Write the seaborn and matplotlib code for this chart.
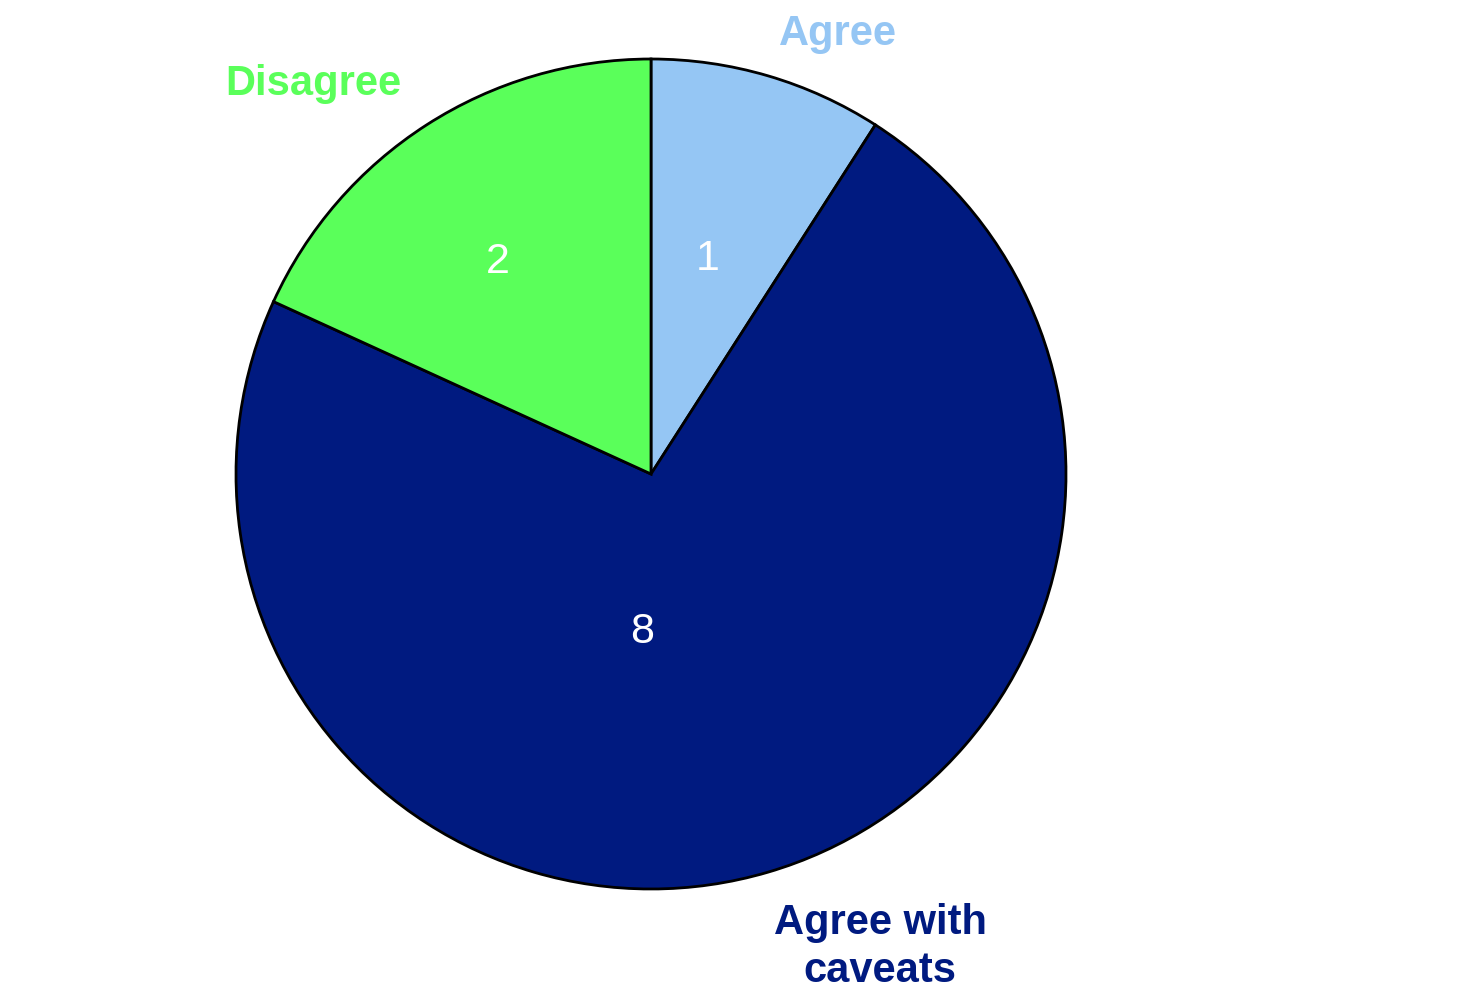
import matplotlib
matplotlib.use("Agg")
import matplotlib.pyplot as plt
import seaborn as sns

sns.set_style("white")
plt.rcParams['font.family'] = ['Liberation Sans', 'DejaVu Sans']

# data
categories = ['Agree', 'Agree with\ncaveats', 'Disagree']
counts = [1, 8, 2]
colors = ['#95C6F4', '#001A80', '#5AFF5A']

fig = plt.figure(figsize=(14.7, 9.99), dpi=100)
ax = fig.add_axes([0, 0, 1, 1])

wedges, texts, autotexts = ax.pie(
    counts, colors=colors, startangle=90, counterclock=False,
    autopct=lambda p: '%d' % round(p * sum(counts) / 100),
    wedgeprops=dict(edgecolor='black', linewidth=2),
    textprops=dict(color='white', fontsize=31))

# value labels inside slices
value_pos = [(0.137, 0.518), (-0.022, -0.381), (-0.369, 0.511)]
for t, pos in zip(autotexts, value_pos):
    t.set_position(pos)
    t.set_ha('center')
    t.set_va('center')

# category labels outside
label_pos = [(0.451, 1.060), (0.552, -1.140), (-0.814, 0.940)]
for name, col, pos in zip(categories, colors, label_pos):
    ax.text(pos[0], pos[1], name, color=col, fontsize=30, fontweight='bold',
            ha='center', va='center', linespacing=1.25)

ax.set_xlim(-651 / 415, (1470 - 651) / 415)
ax.set_ylim((474 - 999) / 415, 474 / 415)
ax.set_aspect('auto')
ax.axis('off')

plt.savefig('out.png', dpi=100)
